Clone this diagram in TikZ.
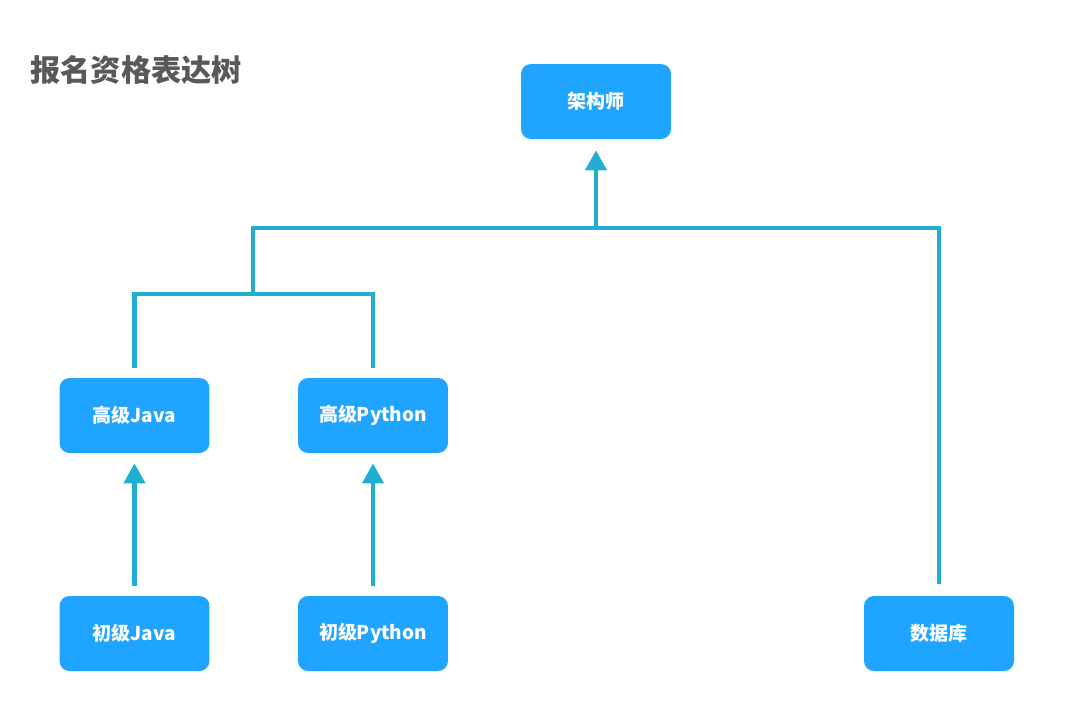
\documentclass[tikz,border=0pt]{standalone}
\usepackage{fontspec}
\setmainfont{Noto Sans CJK SC}
\usetikzlibrary{arrows.meta}
\definecolor{boxblue}{HTML}{1FA5FF}
\definecolor{linkcyan}{HTML}{20AED3}
\definecolor{titlegray}{HTML}{595959}

\begin{document}
\begin{tikzpicture}[x=0.02cm, y=-0.02cm,
    >={Triangle[width=0.42cm, length=0.4cm]},
    level/.style={fill=boxblue, text=white, rounded corners=0.2cm,
        minimum width=3cm, minimum height=1.5cm,
        font=\fontsize{10.8}{12}\selectfont\bfseries},
    link/.style={linkcyan, line width=2.3pt}]
    \useasboundingbox (0,0) rectangle (1070,704);

    \node[anchor=west, text=titlegray, inner sep=0pt,
        font=\fontsize{17.2}{20}\selectfont\bfseries] (title) at (30,70) {报名资格表达树};

    \node[level] (jgs) at (596,101.5) {架构师};
    \node[level] (gjava) at (134.5,415.5) {高级Java};
    \node[level] (gpy) at (373,415.5) {高级Python};
    \node[level] (cjava) at (134.5,633.5) {初级Java};
    \node[level] (cpy) at (373,633.5) {初级Python};
    \node[level] (sjk) at (939,633.5) {数据库};

    \coordinate (low) at (253,294);
    \coordinate (high) at (253,228);
    \coordinate (top) at (596,228);

    % 初级 -> 高级
    \draw[link, ->, shorten <=0.2cm, shorten >=0.2cm] (cjava) -- (gjava);
    \draw[link, ->, shorten <=0.2cm, shorten >=0.2cm] (cpy) -- (gpy);

    % 高级 join
    \draw[link] ([yshift=0.2cm]gjava.north) |- (low) -| ([yshift=0.2cm]gpy.north);
    \draw[link] (low) -- (high) -| ([yshift=0.24cm]sjk.north);
    \draw[link, ->, shorten >=0.22cm] (top) -- (jgs);
\end{tikzpicture}
\end{document}
